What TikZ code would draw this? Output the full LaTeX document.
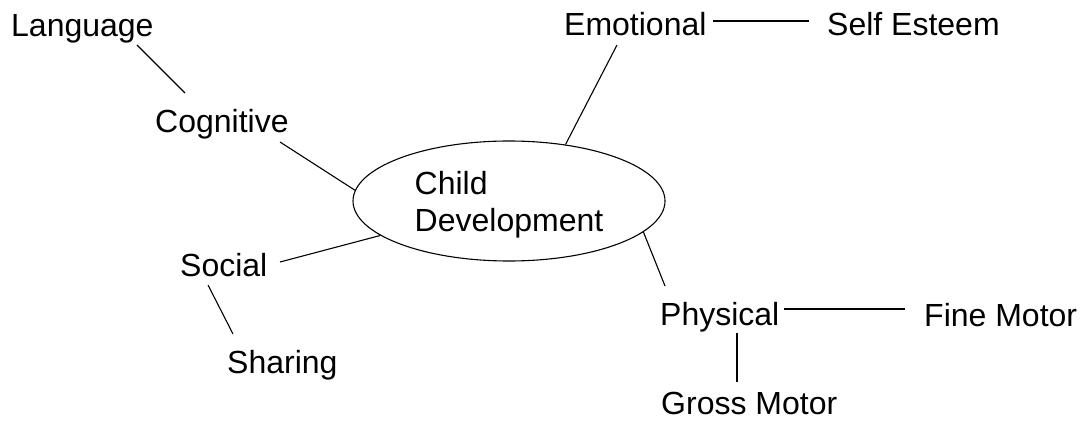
\documentclass[tikz,border=0pt]{standalone}
\usepackage{fontspec}
\setmainfont{Liberation Sans}
\usetikzlibrary{shapes.geometric}
\tikzset{
  lbl/.style={anchor=base west, inner sep=0pt, font=\fontsize{32}{38}\selectfont},
  conn/.style={line width=1.1pt},
  hub/.style={ellipse, draw, line width=1.1pt, minimum width=312pt, minimum height=120pt,
    inner sep=0pt, align=left, text depth=0pt, font=\fontsize{32}{37}\selectfont}
}
\begin{document}
\begin{tikzpicture}[x=1pt,y=-1pt]
\useasboundingbox (0,0) rectangle (1084,422);
\node[hub] (ell) at (509,201) {Child\\Development};
\node[lbl] (lang) at (11,37) {Language};
\node[lbl] (cog) at (155,133) {Cognitive};
\node[lbl] (emo) at (564,36) {Emotional};
\node[lbl] (self) at (827,36) {Self Esteem};
\node[lbl] (soc) at (180,276) {Social};
\node[lbl] (shar) at (227,373) {Sharing};
\node[lbl] (phys) at (660,325) {Physical};
\node[lbl] (fine) at (924,326) {Fine Motor};
\node[lbl] (gross) at (661,414) {Gross Motor};

\draw[conn] ([shift={(126,8)}]lang.base west) -- ([shift={(30,-40)}]cog.base west);
\draw[conn] ([shift={(125,9)}]cog.base west) -- (ell.176);
\draw[conn] ([shift={(53,9)}]emo.base west) -- (ell.45);
\draw[conn] ([shift={(149,-15)}]emo.base west) -- ([shift={(-18,-15)}]self.base west);
\draw[conn] ([shift={(100,-14)}]soc.base west) -- (ell.195);
\draw[conn] ([shift={(28,9)}]soc.base west) -- ([shift={(6,-39)}]shar.base west);
\draw[conn] (ell.-13) -- ([shift={(5,-39)}]phys.base west);
\draw[conn] ([shift={(124,-16)}]phys.base west) -- ([shift={(-19,-17)}]fine.base west);
\draw[conn] ([shift={(77,8)}]phys.base west) -- ([shift={(76,-32)}]gross.base west);
\end{tikzpicture}
\end{document}
